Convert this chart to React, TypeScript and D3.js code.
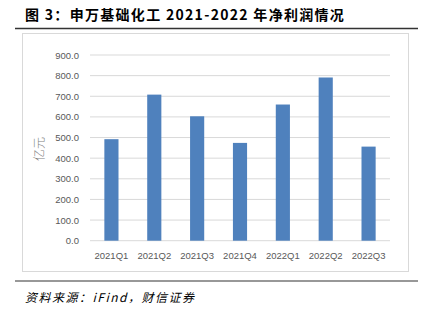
import React from "react";
import * as d3 from "d3";

const categories = ["2021Q1", "2021Q2", "2021Q3", "2021Q4", "2022Q1", "2022Q2", "2022Q3"];
const values = [492, 708, 603, 474, 660, 791, 456];
const yTicks = [0, 100, 200, 300, 400, 500, 600, 700, 800, 900];
const title = "图 3：申万基础化工 2021-2022 年净利润情况";
const yLabel = "亿元";
const source = "资料来源：iFind，财信证券";

export default function App() {
  const W = 425, H = 314;
  const left = 90, right = 390, top = 55, bottom = 240.7;
  const x = d3.scaleBand<string>().domain(categories).range([left, right]).paddingInner(0.67).paddingOuter(0.335);
  const y = d3.scaleLinear().domain([0, 900]).range([bottom, top]);
  const gray = "#595959";
  return (
    <svg width={W} height={H} style={{ position: "absolute", left: 0, top: 0, background: "#fff" }}>
      <text x={25} y={20} fontFamily="'Noto Sans CJK SC', sans-serif" fontWeight="bold" fontSize={14} letterSpacing={1.3} fill="#000">
        {title}
      </text>
      <line x1={15} x2={418} y1={28.5} y2={28.5} stroke="#333" strokeWidth={1.5} />
      <rect x={22.5} y={33.5} width={386} height={238} fill="none" stroke="#d9d9d9" strokeWidth={1} />
      {yTicks.map((t) => (
        <g key={t}>
          <line x1={left} x2={right} y1={y(t)} y2={y(t)} stroke="#d9d9d9" strokeWidth={1} />
          <text x={79} y={y(t) + 3.5} textAnchor="end" fontFamily="'Liberation Sans', Arial, sans-serif" fontSize={9.5} fill={gray}>
            {t.toFixed(1)}
          </text>
        </g>
      ))}
      {categories.map((c, i) => (
        <rect key={c} x={x(c)} y={y(values[i])} width={x.bandwidth()} height={bottom - y(values[i])} fill="#4f81bd" />
      ))}
      {categories.map((c) => (
        <text key={c} x={(x(c) as number) + x.bandwidth() / 2} y={259} textAnchor="middle" fontFamily="'Liberation Sans', Arial, sans-serif" fontSize={9.5} fill={gray}>
          {c}
        </text>
      ))}
      <text transform={`translate(44,149) rotate(-90)`} textAnchor="middle" fontFamily="'Noto Sans CJK SC', sans-serif" fontWeight="300" fontSize={12} fill="#7f7f7f">
        {yLabel}
      </text>
      <line x1={15} x2={418} y1={281} y2={281} stroke="#333" strokeWidth={1.2} />
      <text x={25} y={302} fontFamily="'Noto Sans CJK SC', serif" fontStyle="italic" fontSize={12} letterSpacing={1.5} fill="#000">
        {source}
      </text>
    </svg>
  );
}
